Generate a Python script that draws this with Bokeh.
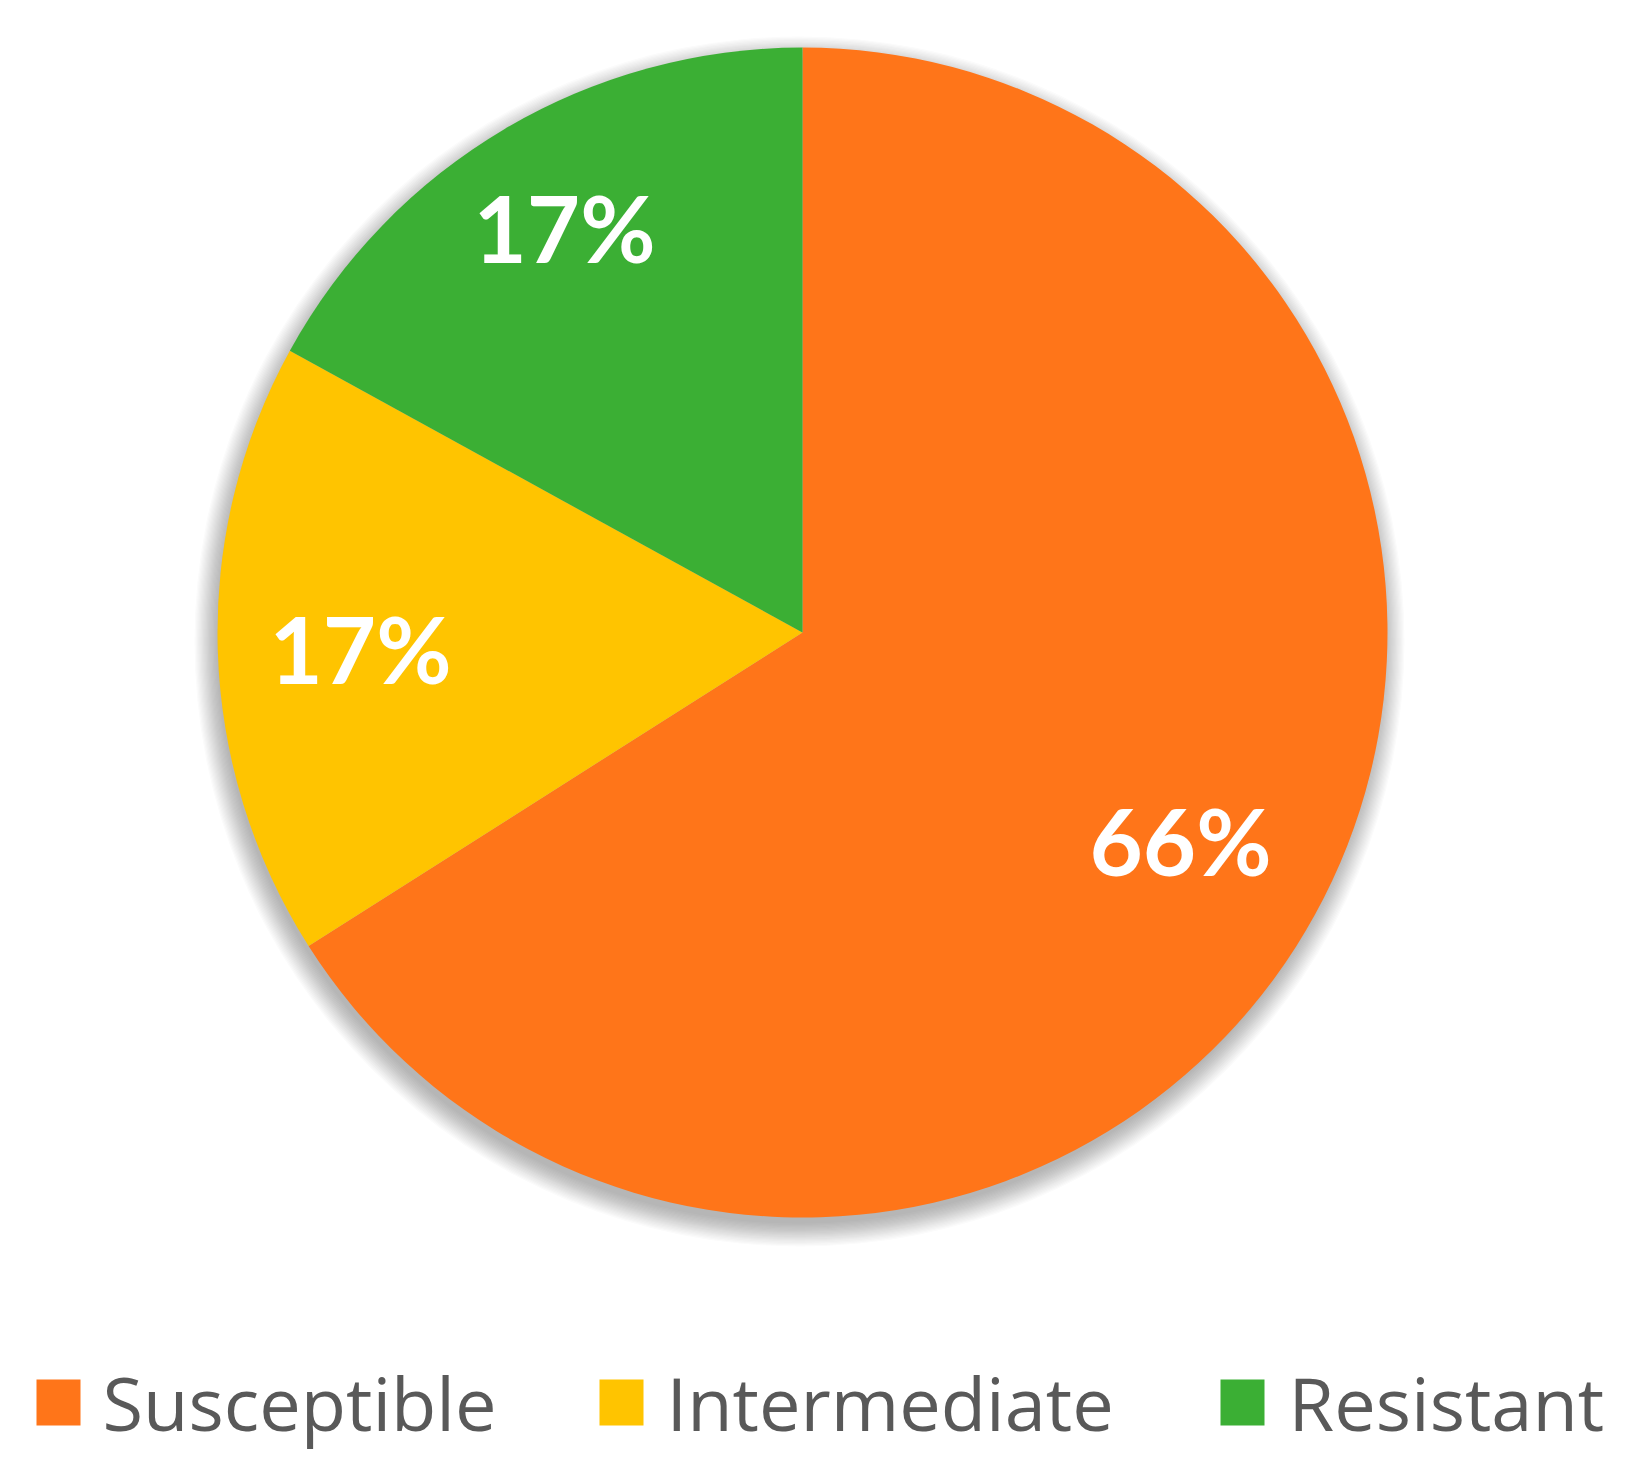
import math
from bokeh.plotting import figure
from bokeh.models import Range1d, ColumnDataSource
from bokeh.core.properties import value
from bokeh.embed import file_html
from bokeh.resources import INLINE

# ---- data ----
categories = ["Susceptible", "Intermediate", "Resistant"]
percent = [66, 17, 17]
colors = ["#FF7519", "#FFC400", "#3BAF34"]
labels = ["66%", "17%", "17%"]

W, H = 1621, 1453
p = figure(width=W, height=H, output_backend="svg", toolbar_location=None,
           x_range=Range1d(8, 8 + W), y_range=Range1d(8, 8 + H),
           min_border=0, background_fill_color="white", border_fill_color="white")
p.axis.visible = False
p.grid.visible = False
p.outline_line_color = None

DX, DY = 8, 7          # fine alignment offset (page pixels)
PH = 1469              # data y = PH - page y
cx, cy, R = 802 + DX, PH - 633 - DY, 585

# soft shadow
for k in range(20):
    p.circle(x=cx - 3, y=cy - 9, radius=R + 20 - k * 1.2, fill_color="#444444",
             fill_alpha=0.018, line_color=None)

# wedges: start at top, clockwise
total = sum(percent)
ends, starts = [], []
a = math.pi / 2
for v in percent:
    starts.append(a)
    a -= 2 * math.pi * v / total
    ends.append(a)
src = ColumnDataSource(dict(start=ends, end=starts, color=colors, cat=categories))
p.wedge(x=cx, y=cy, radius=R, start_angle="start", end_angle="end",
        fill_color="color", line_color=None, source=src)

# labels
lab_x = [1180 + DX, 360 + DX, 564 + DX]
lab_y = [PH - 841 - DY, PH - 649 - DY, PH - 228 - DY]
p.text(x=lab_x, y=lab_y, text=labels, text_color="white",
       text_font=value("Lato"), text_font_style="bold", text_font_size="92px",
       text_align="center", text_baseline="middle")

# legend
sq_x = [58 + DX, 621 + DX, 1242 + DX]
tx_x = [102 + DX, 666 + DX, 1288 + DX]
ly = PH - 1403 - DY
p.rect(x=sq_x, y=[ly] * 3, width=44, height=46, fill_color=colors, line_color=None)
p.text(x=tx_x, y=[ly] * 3, text=categories, text_color="#595959",
       text_font=value("Open Sans"), text_font_size="74px",
       text_align="left", text_baseline="middle")

open("out.html", "w").write(file_html(p, INLINE))
